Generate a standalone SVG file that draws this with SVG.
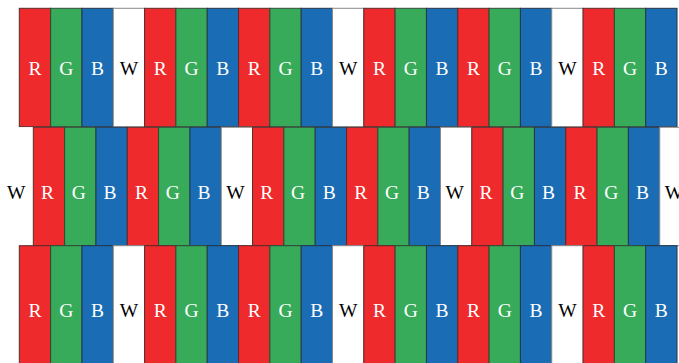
<svg xmlns="http://www.w3.org/2000/svg" width="679" height="363" viewBox="0 0 679 363">
<style>
rect{stroke-width:1}
.r{fill:#EE2A2D;stroke:#5a2a2a}
.g{fill:#37AB5A;stroke:#2f4a36}
.b{fill:#1A6DB5;stroke:#24364a}
.w{fill:#FFFFFF;stroke:#8a8a8a}
text{font-family:"Liberation Serif","Times New Roman",serif;font-size:19.5px;text-anchor:middle}
.tl{fill:#FFFFFF}
.td{fill:#000000}
</style>
<rect width="679" height="363" fill="#FFFFFF" stroke="none"/>
<g id="row1">
<g id="r1c1"><rect class="r" x="19.3" y="8.3" width="31.32" height="118.4"/><text class="tl" x="34.96" y="75">R</text></g>
<g id="r1c2"><rect class="g" x="50.62" y="8.3" width="31.32" height="118.4"/><text class="tl" x="66.28" y="75">G</text></g>
<g id="r1c3"><rect class="b" x="81.94" y="8.3" width="31.32" height="118.4"/><text class="tl" x="97.6" y="75">B</text></g>
<g id="r1c4"><rect class="w" x="113.26" y="8.3" width="31.32" height="118.4"/><text class="td" x="128.92" y="75">W</text></g>
<g id="r1c5"><rect class="r" x="144.58" y="8.3" width="31.32" height="118.4"/><text class="tl" x="160.24" y="75">R</text></g>
<g id="r1c6"><rect class="g" x="175.9" y="8.3" width="31.32" height="118.4"/><text class="tl" x="191.56" y="75">G</text></g>
<g id="r1c7"><rect class="b" x="207.22" y="8.3" width="31.32" height="118.4"/><text class="tl" x="222.88" y="75">B</text></g>
<g id="r1c8"><rect class="r" x="238.54" y="8.3" width="31.32" height="118.4"/><text class="tl" x="254.2" y="75">R</text></g>
<g id="r1c9"><rect class="g" x="269.86" y="8.3" width="31.32" height="118.4"/><text class="tl" x="285.52" y="75">G</text></g>
<g id="r1c10"><rect class="b" x="301.18" y="8.3" width="31.32" height="118.4"/><text class="tl" x="316.84" y="75">B</text></g>
<g id="r1c11"><rect class="w" x="332.5" y="8.3" width="31.32" height="118.4"/><text class="td" x="348.16" y="75">W</text></g>
<g id="r1c12"><rect class="r" x="363.82" y="8.3" width="31.32" height="118.4"/><text class="tl" x="379.48" y="75">R</text></g>
<g id="r1c13"><rect class="g" x="395.14" y="8.3" width="31.32" height="118.4"/><text class="tl" x="410.8" y="75">G</text></g>
<g id="r1c14"><rect class="b" x="426.46" y="8.3" width="31.32" height="118.4"/><text class="tl" x="442.12" y="75">B</text></g>
<g id="r1c15"><rect class="r" x="457.78" y="8.3" width="31.32" height="118.4"/><text class="tl" x="473.44" y="75">R</text></g>
<g id="r1c16"><rect class="g" x="489.1" y="8.3" width="31.32" height="118.4"/><text class="tl" x="504.76" y="75">G</text></g>
<g id="r1c17"><rect class="b" x="520.42" y="8.3" width="31.32" height="118.4"/><text class="tl" x="536.08" y="75">B</text></g>
<g id="r1c18"><rect class="w" x="551.74" y="8.3" width="31.32" height="118.4"/><text class="td" x="567.4" y="75">W</text></g>
<g id="r1c19"><rect class="r" x="583.06" y="8.3" width="31.32" height="118.4"/><text class="tl" x="598.72" y="75">R</text></g>
<g id="r1c20"><rect class="g" x="614.38" y="8.3" width="31.32" height="118.4"/><text class="tl" x="630.04" y="75">G</text></g>
<g id="r1c21"><rect class="b" x="645.7" y="8.3" width="31.32" height="118.4"/><text class="tl" x="661.36" y="75">B</text></g>
</g>
<g id="row2">
<g id="r2c1"><rect class="w" x="2" y="127.3" width="31.32" height="118.4" stroke="none" style="stroke:none"/><text class="td" x="16.2" y="199">W</text></g>
<g id="r2c2"><rect class="r" x="33.32" y="127.3" width="31.32" height="118.4"/><text class="tl" x="47.48" y="199">R</text></g>
<g id="r2c3"><rect class="g" x="64.64" y="127.3" width="31.32" height="118.4"/><text class="tl" x="78.8" y="199">G</text></g>
<g id="r2c4"><rect class="b" x="95.96" y="127.3" width="31.32" height="118.4"/><text class="tl" x="110.12" y="199">B</text></g>
<g id="r2c5"><rect class="r" x="127.28" y="127.3" width="31.32" height="118.4"/><text class="tl" x="141.44" y="199">R</text></g>
<g id="r2c6"><rect class="g" x="158.6" y="127.3" width="31.32" height="118.4"/><text class="tl" x="172.76" y="199">G</text></g>
<g id="r2c7"><rect class="b" x="189.92" y="127.3" width="31.32" height="118.4"/><text class="tl" x="204.08" y="199">B</text></g>
<g id="r2c8"><rect class="w" x="221.24" y="127.3" width="31.32" height="118.4"/><text class="td" x="235.4" y="199">W</text></g>
<g id="r2c9"><rect class="r" x="252.56" y="127.3" width="31.32" height="118.4"/><text class="tl" x="266.72" y="199">R</text></g>
<g id="r2c10"><rect class="g" x="283.88" y="127.3" width="31.32" height="118.4"/><text class="tl" x="298.04" y="199">G</text></g>
<g id="r2c11"><rect class="b" x="315.2" y="127.3" width="31.32" height="118.4"/><text class="tl" x="329.36" y="199">B</text></g>
<g id="r2c12"><rect class="r" x="346.52" y="127.3" width="31.32" height="118.4"/><text class="tl" x="360.68" y="199">R</text></g>
<g id="r2c13"><rect class="g" x="377.84" y="127.3" width="31.32" height="118.4"/><text class="tl" x="392" y="199">G</text></g>
<g id="r2c14"><rect class="b" x="409.16" y="127.3" width="31.32" height="118.4"/><text class="tl" x="423.32" y="199">B</text></g>
<g id="r2c15"><rect class="w" x="440.48" y="127.3" width="31.32" height="118.4"/><text class="td" x="454.64" y="199">W</text></g>
<g id="r2c16"><rect class="r" x="471.8" y="127.3" width="31.32" height="118.4"/><text class="tl" x="485.96" y="199">R</text></g>
<g id="r2c17"><rect class="g" x="503.12" y="127.3" width="31.32" height="118.4"/><text class="tl" x="517.28" y="199">G</text></g>
<g id="r2c18"><rect class="b" x="534.44" y="127.3" width="31.32" height="118.4"/><text class="tl" x="548.6" y="199">B</text></g>
<g id="r2c19"><rect class="r" x="565.76" y="127.3" width="31.32" height="118.4"/><text class="tl" x="579.92" y="199">R</text></g>
<g id="r2c20"><rect class="g" x="597.08" y="127.3" width="31.32" height="118.4"/><text class="tl" x="611.24" y="199">G</text></g>
<g id="r2c21"><rect class="b" x="628.4" y="127.3" width="31.32" height="118.4"/><text class="tl" x="642.56" y="199">B</text></g>
<g id="r2c22"><rect class="w" x="659.72" y="127.3" width="31.32" height="118.4"/><text class="td" x="673.88" y="199">W</text></g>
</g>
<g id="row3">
<g id="r3c1"><rect class="r" x="19.3" y="245.7" width="31.32" height="120"/><text class="tl" x="34.96" y="317">R</text></g>
<g id="r3c2"><rect class="g" x="50.62" y="245.7" width="31.32" height="120"/><text class="tl" x="66.28" y="317">G</text></g>
<g id="r3c3"><rect class="b" x="81.94" y="245.7" width="31.32" height="120"/><text class="tl" x="97.6" y="317">B</text></g>
<g id="r3c4"><rect class="w" x="113.26" y="245.7" width="31.32" height="120"/><text class="td" x="128.92" y="317">W</text></g>
<g id="r3c5"><rect class="r" x="144.58" y="245.7" width="31.32" height="120"/><text class="tl" x="160.24" y="317">R</text></g>
<g id="r3c6"><rect class="g" x="175.9" y="245.7" width="31.32" height="120"/><text class="tl" x="191.56" y="317">G</text></g>
<g id="r3c7"><rect class="b" x="207.22" y="245.7" width="31.32" height="120"/><text class="tl" x="222.88" y="317">B</text></g>
<g id="r3c8"><rect class="r" x="238.54" y="245.7" width="31.32" height="120"/><text class="tl" x="254.2" y="317">R</text></g>
<g id="r3c9"><rect class="g" x="269.86" y="245.7" width="31.32" height="120"/><text class="tl" x="285.52" y="317">G</text></g>
<g id="r3c10"><rect class="b" x="301.18" y="245.7" width="31.32" height="120"/><text class="tl" x="316.84" y="317">B</text></g>
<g id="r3c11"><rect class="w" x="332.5" y="245.7" width="31.32" height="120"/><text class="td" x="348.16" y="317">W</text></g>
<g id="r3c12"><rect class="r" x="363.82" y="245.7" width="31.32" height="120"/><text class="tl" x="379.48" y="317">R</text></g>
<g id="r3c13"><rect class="g" x="395.14" y="245.7" width="31.32" height="120"/><text class="tl" x="410.8" y="317">G</text></g>
<g id="r3c14"><rect class="b" x="426.46" y="245.7" width="31.32" height="120"/><text class="tl" x="442.12" y="317">B</text></g>
<g id="r3c15"><rect class="r" x="457.78" y="245.7" width="31.32" height="120"/><text class="tl" x="473.44" y="317">R</text></g>
<g id="r3c16"><rect class="g" x="489.1" y="245.7" width="31.32" height="120"/><text class="tl" x="504.76" y="317">G</text></g>
<g id="r3c17"><rect class="b" x="520.42" y="245.7" width="31.32" height="120"/><text class="tl" x="536.08" y="317">B</text></g>
<g id="r3c18"><rect class="w" x="551.74" y="245.7" width="31.32" height="120"/><text class="td" x="567.4" y="317">W</text></g>
<g id="r3c19"><rect class="r" x="583.06" y="245.7" width="31.32" height="120"/><text class="tl" x="598.72" y="317">R</text></g>
<g id="r3c20"><rect class="g" x="614.38" y="245.7" width="31.32" height="120"/><text class="tl" x="630.04" y="317">G</text></g>
<g id="r3c21"><rect class="b" x="645.7" y="245.7" width="31.32" height="120"/><text class="tl" x="661.36" y="317">B</text></g>
</g>
<g id="connectors"/>
</svg>
